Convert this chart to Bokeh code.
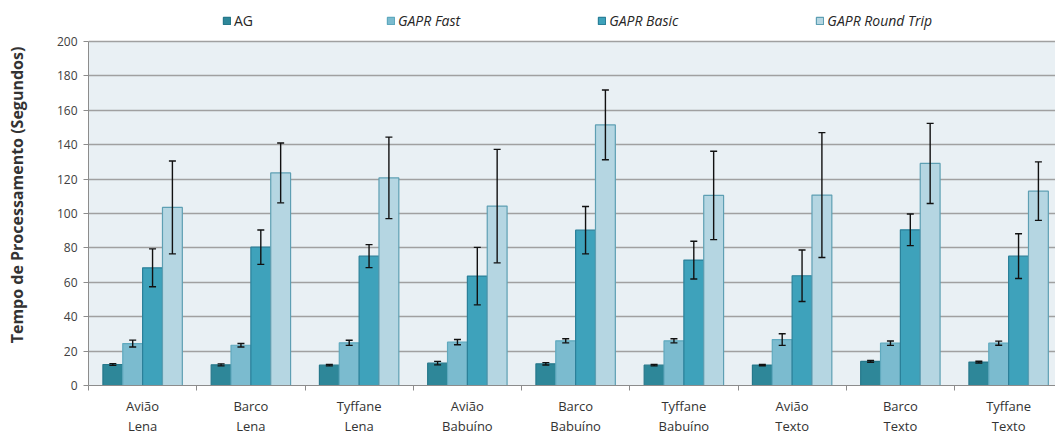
from bokeh.plotting import figure
from bokeh.models import (Range1d, FixedTicker, Legend, LegendItem, BoxAnnotation,
                          Whisker, ColumnDataSource, TeeHead)
from bokeh.embed import file_html
from bokeh.resources import INLINE

# ---- data ----
label_top = ["Avião", "Barco", "Tyffane", "Avião", "Barco", "Tyffane", "Avião", "Barco", "Tyffane"]
label_bottom = ["Lena", "Lena", "Lena", "Babuíno", "Babuíno", "Babuíno", "Texto", "Texto", "Texto"]
series_names = ["AG", "GAPR Fast", "GAPR Basic", "GAPR Round Trip"]
ag_mean = [12.2, 12.0, 11.8, 13.0, 12.6, 11.8, 11.9, 14.0, 13.6]
ag_err = [0.5, 0.6, 0.4, 1.0, 0.7, 0.4, 0.4, 0.5, 0.5]
fast_mean = [24.4, 23.4, 24.8, 25.2, 26.0, 26.0, 26.7, 24.6, 24.6]
fast_err = [2.0, 1.0, 1.5, 1.5, 1.2, 1.2, 3.4, 1.3, 1.2]
basic_mean = [68.4, 80.4, 75.2, 63.6, 90.3, 72.9, 63.8, 90.5, 75.2]
basic_err = [11.0, 10.0, 6.7, 16.7, 13.8, 11.0, 15.0, 9.2, 13.0]
rt_mean = [103.5, 123.6, 120.7, 104.3, 151.5, 110.5, 110.7, 129.1, 113.0]
rt_err = [27.0, 17.4, 23.7, 33.0, 20.3, 25.7, 36.3, 23.3, 17.0]
y_ticks = [0, 20, 40, 60, 80, 100, 120, 140, 160, 180, 200]

means = [ag_mean, fast_mean, basic_mean, rt_mean]
errs = [ag_err, fast_err, basic_err, rt_err]
fills = ["#2E8799", "#7BBBCF", "#3EA2BB", "#B5D6E2"]
lines = ["#26788B", "#5FA9BE", "#2B8099", "#5E9FB3"]

FONT = "Open Sans"
n = len(label_top)
centers = [i + 0.5 for i in range(n)]
bounds = [float(i) for i in range(n + 1)]
bar_w = 0.1834
y_max = y_ticks[-1]

p = figure(width=1055, height=437, output_backend="svg", toolbar_location=None,
           x_range=Range1d(0, 8.933), y_range=Range1d(0, 221.5),
           min_border_left=88, min_border_right=0, min_border_top=4, min_border_bottom=51)
p.outline_line_color = None
p.background_fill_color = "white"
p.border_fill_color = "white"

# light plot-area background only up to the top of the value axis
p.add_layout(BoxAnnotation(top=y_max, fill_color="#E9F0F4", fill_alpha=1.0,
                           line_alpha=0, level="image"))

renderers = []
for k in range(4):
    offs = (k - 1.5) * bar_w
    xs = [c + offs for c in centers]
    src = ColumnDataSource(dict(x=xs, top=means[k],
                                upper=[m + e for m, e in zip(means[k], errs[k])],
                                lower=[m - e for m, e in zip(means[k], errs[k])]))
    r = p.vbar(x="x", top="top", bottom=0, width=bar_w, source=src,
               fill_color=fills[k], line_color=lines[k], line_width=1.2)
    renderers.append(r)
    w = Whisker(source=src, base="x", upper="upper", lower="lower", level="overlay",
                line_color="#111111", line_width=1.4,
                upper_head=TeeHead(size=7, line_color="#111111", line_width=1.4),
                lower_head=TeeHead(size=7, line_color="#111111", line_width=1.4))
    p.add_layout(w)

# y axis
p.yaxis.ticker = FixedTicker(ticks=y_ticks)
p.yaxis.bounds = (0, y_max)
p.yaxis.minor_tick_line_color = None
p.yaxis.major_tick_in = 0
p.yaxis.major_tick_out = 5
p.yaxis.axis_line_color = "#8c8c8c"
p.yaxis.major_tick_line_color = "#8c8c8c"
p.yaxis.major_label_text_font = FONT
p.yaxis.major_label_text_font_size = "12px"
p.yaxis.major_label_text_color = "#404040"
p.yaxis.major_label_standoff = 6
p.yaxis.axis_label = "Tempo de Processamento (Segundos)"
p.yaxis.axis_label_text_font = FONT
p.yaxis.axis_label_text_font_size = "16px"
p.yaxis.axis_label_text_font_style = "bold"
p.yaxis.axis_label_text_color = "#333333"
p.yaxis.axis_label_standoff = 26

p.ygrid.ticker = FixedTicker(ticks=y_ticks)
p.ygrid.grid_line_color = "#a0a0a0"
p.ygrid.grid_line_width = 1.5
p.xgrid.grid_line_color = None

# x axis: labels at group centres, tick marks at group boundaries
xa = p.xaxis[0]
xa.ticker = FixedTicker(ticks=centers, minor_ticks=bounds)
xa.major_label_overrides = {c: t + "\n" + b for c, t, b in zip(centers, label_top, label_bottom)}
xa.major_tick_line_color = None
xa.major_tick_out = 0
xa.major_tick_in = 0
xa.minor_tick_in = 0
xa.minor_tick_out = 5
xa.minor_tick_line_color = "#8c8c8c"
xa.axis_line_color = "#8c8c8c"
xa.major_label_standoff = 6
xa.major_label_text_font = FONT
xa.major_label_text_font_size = "13px"
xa.major_label_text_line_height = 1.13
xa.major_label_text_color = "#333333"

# legends in the white strip at the top of the frame
common = dict(orientation="horizontal", padding=0, margin=0, glyph_width=9, glyph_height=9,
              label_standoff=3, label_height=14, label_text_font=FONT,
              label_text_font_size="14px", label_text_color="#262626",
              border_line_color=None, background_fill_alpha=0, spacing=137)
leg1 = Legend(items=[LegendItem(label=series_names[0], renderers=[renderers[0]])],
              location=(134, 355), **common)
leg2 = Legend(items=[LegendItem(label=series_names[k], renderers=[renderers[k]]) for k in range(1, 4)],
              location=(298, 355), label_text_font_style="italic", **common)
p.add_layout(leg1, "center")
p.add_layout(leg2, "center")

open("out.html", "w").write(file_html(p, INLINE))
